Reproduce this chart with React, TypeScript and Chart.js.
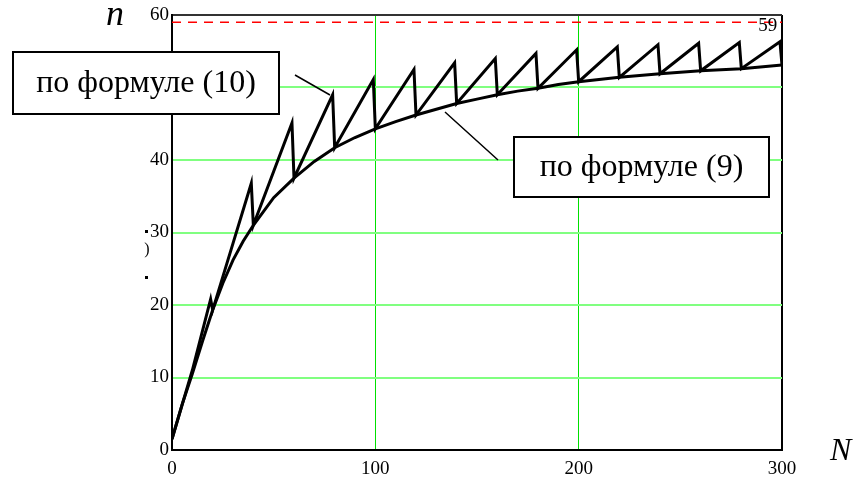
import React, { useEffect, useRef } from "react";
import { Chart, registerables } from "chart.js";

Chart.register(...registerables);

// Formula (9): smooth curve
const curveN = [0, 5, 10, 15, 20, 25, 30, 35, 40, 50, 60, 70, 80, 90, 100, 110, 120, 130, 140, 150, 160, 170, 180, 190, 200, 220, 240, 260, 280, 300];
const curveValues = [1.5, 6.3, 10.5, 15.0, 19.3, 23.0, 26.2, 28.8, 31.0, 34.8, 37.5, 39.8, 41.7, 43.1, 44.3, 45.3, 46.2, 47.0, 47.8, 48.4, 49.0, 49.5, 49.9, 50.4, 50.8, 51.4, 51.9, 52.3, 52.6, 53.1];

// Formula (10): sawtooth
const sawN = [0, 10, 19, 20, 30, 39, 40, 59, 60, 79, 80, 99, 100, 119, 120, 139, 140, 159, 160, 179, 180, 199, 200, 219, 220, 239, 240, 259, 260, 279, 280, 299, 300];
const sawValues = [1.5, 11.0, 20.8, 19.3, 28.5, 36.8, 31.0, 45.1, 37.5, 49.0, 41.7, 51.1, 44.3, 52.5, 46.2, 53.4, 47.8, 54.0, 49.0, 54.7, 49.9, 55.2, 50.8, 55.6, 51.4, 55.9, 51.9, 56.1, 52.3, 56.2, 52.6, 56.3, 53.1];

// Limit line
const limitN = [0, 300];
const limitValue = 59;

const xTicks = [0, 100, 200, 300];
const yTicks = [0, 10, 20, 30, 40, 50, 60];

const label10 = "по формуле (10)";
const label9 = "по формуле (9)";
const yAxisTitle = "n";
const xAxisTitle = "N";

const SERIF = "'Liberation Serif', 'Times New Roman', serif";

export default function App() {
  const ref = useRef<HTMLCanvasElement | null>(null);

  useEffect(() => {
    const canvas = ref.current;
    if (!canvas) return;

    const annotations = {
      id: "annotations",
      afterDraw(chart: any) {
        const ctx = chart.ctx;
        const xs = chart.scales.x;
        const ys = chart.scales.y;
        ctx.save();

        // limit label
        ctx.fillStyle = "#000";
        ctx.font = `19px ${SERIF}`;
        ctx.textAlign = "center";
        ctx.textBaseline = "middle";
        ctx.fillText(String(limitValue), xs.getPixelForValue(293), ys.getPixelForValue(limitValue) + 4);

        // axis titles
        ctx.font = `italic 36px ${SERIF}`;
        ctx.textAlign = "left";
        ctx.textBaseline = "alphabetic";
        ctx.fillText(yAxisTitle, 106, 25);
        ctx.font = `italic 32px ${SERIF}`;
        ctx.fillText(xAxisTitle, 830, 460);

        // small artifacts left of axis
        ctx.fillRect(145, 230, 3, 3);
        ctx.fillRect(145, 276, 3, 3);
        ctx.font = `16px ${SERIF}`;
        ctx.textAlign = "center";
        ctx.textBaseline = "middle";
        ctx.fillText(")", 147, 250);

        // leader lines
        ctx.strokeStyle = "#000";
        ctx.lineWidth = 1.5;
        ctx.beginPath();
        ctx.moveTo(295, 75);
        ctx.lineTo(330, 95);
        ctx.moveTo(445, 112);
        ctx.lineTo(498, 160);
        ctx.stroke();

        // boxes
        const box = (x1: number, y1: number, x2: number, y2: number, text: string) => {
          ctx.fillStyle = "#fff";
          ctx.fillRect(x1, y1, x2 - x1, y2 - y1);
          ctx.strokeStyle = "#000";
          ctx.lineWidth = 2;
          ctx.strokeRect(x1, y1, x2 - x1, y2 - y1);
          ctx.fillStyle = "#000";
          ctx.font = `32px ${SERIF}`;
          ctx.textAlign = "center";
          ctx.textBaseline = "middle";
          ctx.fillText(text, (x1 + x2) / 2, (y1 + y2) / 2 + 1);
        };
        box(13, 52, 279, 114, label10);
        box(514, 137, 769, 197, label9);

        ctx.restore();
      },
    };

    const chart = new Chart(canvas, {
      type: "line",
      data: {
        datasets: [
          {
            data: limitN.map((n) => ({ x: n, y: limitValue })),
            borderColor: "#ff0000",
            borderWidth: 1.5,
            borderDash: [9, 7],
            pointRadius: 0,
          },
          {
            data: curveN.map((n, i) => ({ x: n, y: curveValues[i] })),
            borderColor: "#000",
            borderWidth: 3,
            pointRadius: 0,
            tension: 0,
          },
          {
            data: sawN.map((n, i) => ({ x: n, y: sawValues[i] })),
            borderColor: "#000",
            borderWidth: 3,
            pointRadius: 0,
            tension: 0,
          },
        ],
      },
      options: {
        responsive: false,
        animation: false,
        layout: { padding: { left: 0, top: 15, right: 73, bottom: 0 } },
        plugins: { legend: { display: false }, tooltip: { enabled: false } },
        scales: {
          x: {
            type: "linear",
            min: 0,
            max: 300,
            afterBuildTicks: (s: any) => {
              s.ticks = xTicks.map((v) => ({ value: v }));
            },
            afterFit: (s: any) => {
              s.height = 29;
            },
            ticks: { color: "#000", font: { family: SERIF, size: 19 }, padding: 8, maxRotation: 0 },
            grid: {
              drawTicks: false,
              color: (c: any) => (c.tick && c.tick.value === 300 ? "#000" : c.tick && c.tick.value === 0 ? "rgba(0,0,0,0)" : "#00e000"),
              lineWidth: (c: any) => (c.tick && c.tick.value === 300 ? 2 : 1),
            },
            border: { color: "#000", width: 2 },
          },
          y: {
            min: 0,
            max: 60,
            afterBuildTicks: (s: any) => {
              s.ticks = yTicks.map((v) => ({ value: v }));
            },
            afterFit: (s: any) => {
              s.width = 172;
            },
            ticks: { color: "#000", font: { family: SERIF, size: 19 }, padding: 3 },
            grid: {
              drawTicks: false,
              color: (c: any) => (c.tick && c.tick.value === 60 ? "#333" : c.tick && c.tick.value === 0 ? "rgba(0,0,0,0)" : "#80ff80"),
              lineWidth: 2,
            },
            border: { color: "#000", width: 2 },
          },
        },
      },
      plugins: [annotations],
    } as any);

    return () => chart.destroy();
  }, []);

  return (
    <div style={{ position: "absolute", left: 0, top: 0, width: 855, height: 479, background: "#fff" }}>
      <canvas ref={ref} width={855} height={479} style={{ width: 855, height: 479 }} />
    </div>
  );
}
